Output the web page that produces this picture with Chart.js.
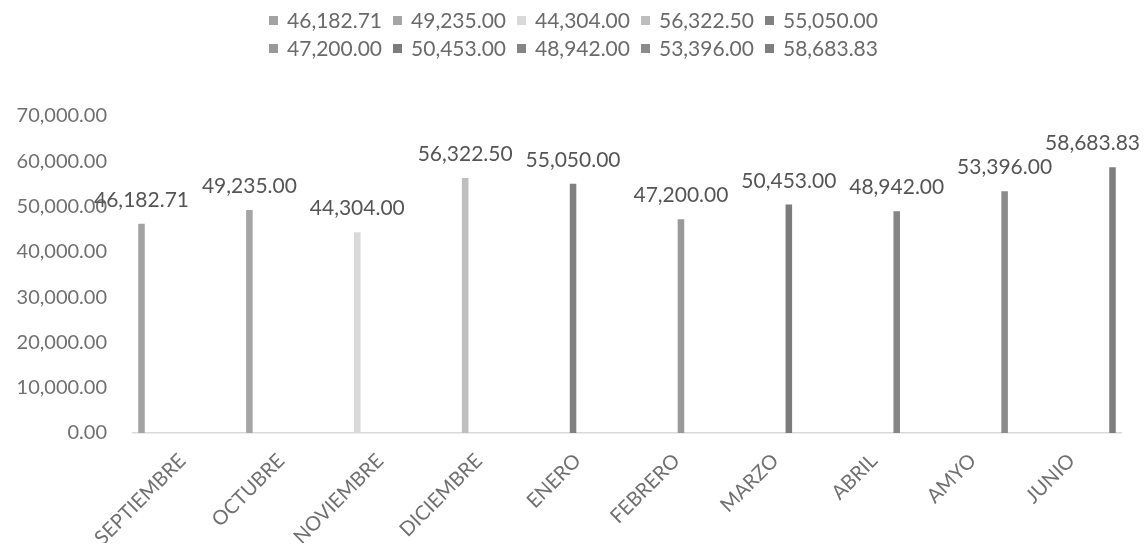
<!DOCTYPE html>
<html>
<head>
<meta charset="utf-8">
<script src="https://cdn.jsdelivr.net/npm/chart.js@4.4.1/dist/chart.umd.min.js"></script>
<style>
  html, body { margin: 0; padding: 0; background: #fff; overflow: hidden; }
  #wrap { position: relative; width: 1147px; height: 551px; overflow: hidden; }
  #legend {
    position: absolute; top: 6px; left: 0; width: 1147px;
    display: flex; justify-content: center;
  }
  #legend .inner {
    width: 640px; display: flex; flex-wrap: wrap; justify-content: center;
    column-gap: 11px; row-gap: 0;
  }
  #legend .item {
    display: flex; align-items: center; font: 21px Lato, sans-serif;
    color: #6a6a6a; line-height: 28px; white-space: nowrap;
  }
  #legend .box { width: 9px; height: 9px; margin-right: 9px; }
  #chart { position: absolute; top: 0; left: 0; }
</style>
</head>
<body>
<div id="wrap">
  <canvas id="chart" width="1147" height="600"></canvas>
  <div id="legend"><div class="inner"></div></div>
</div>
<script>
"use strict"

// months (categories) and one value per month
var months = ["SEPTIEMBRE", "OCTUBRE", "NOVIEMBRE", "DICIEMBRE", "ENERO",
              "FEBRERO", "MARZO", "ABRIL", "AMYO", "JUNIO"];
var amounts = [46182.71, 49235.00, 44304.00, 56322.50, 55050.00,
               47200.00, 50453.00, 48942.00, 53396.00, 58683.83];
// every month is its own series, named by its value
var seriesNames = ["46,182.71", "49,235.00", "44,304.00", "56,322.50", "55,050.00",
                   "47,200.00", "50,453.00", "48,942.00", "53,396.00", "58,683.83"];
var yTicks = [0, 10000, 20000, 30000, 40000, 50000, 60000, 70000];

var barColors = ["#a2a2a2", "#a5a5a5", "#d9d9d9", "#bebebe", "#818181",
                 "#999999", "#7c7c7c", "#858585", "#8b8b8b", "#7e7e7e"];

function fmt(v) {
    return v.toLocaleString('en-US', {minimumFractionDigits: 2, maximumFractionDigits: 2});
}

var datasets = seriesNames.map(function(name, i) {
    var row = months.map(function(m, j) { return j === i ? amounts[i] : null; });
    return {
        label: name,
        data: row,
        backgroundColor: barColors[i],
        borderWidth: 0,
        categoryPercentage: 0.92,
        barPercentage: 0.72
    };
});

// value labels above the bars
var valueLabels = {
    id: 'valueLabels',
    afterDatasetsDraw: function(chart) {
        var ctx = chart.ctx;
        ctx.save();
        ctx.font = '21px Lato';
        ctx.fillStyle = '#555555';
        ctx.textAlign = 'center';
        ctx.textBaseline = 'alphabetic';
        chart.data.datasets.forEach(function(ds, i) {
            chart.getDatasetMeta(i).data.forEach(function(bar, j) {
                if (ds.data[j] == null) return;
                var text = fmt(ds.data[j]);
                var w = ctx.measureText(text).width;
                var x = Math.min(bar.x, chart.width - 7 - w / 2);
                ctx.fillText(text, x, bar.y - 17);
            });
        });
        ctx.restore();
    }
};

var ctxChart = document.getElementById("chart");
var amountsChart = new Chart(ctxChart, {
    type: 'bar',
    data: {
        labels: months,
        datasets: datasets
    },
    options: {
        responsive: false,
        animation: false,
        layout: { padding: { top: 116, right: 26, bottom: 57, left: 12 } },
        plugins: {
            legend: { display: false },
            tooltip: { enabled: false }
        },
        scales: {
            x: {
                grid: { display: false },
                border: { display: true, color: '#d9d9d9', width: 1.5 },
                afterFit: function(axis) { axis.height = 110; },
                ticks: {
                    color: '#707070',
                    font: { family: 'Lato', size: 20 },
                    minRotation: 45,
                    maxRotation: 45,
                    padding: 8
                }
            },
            y: {
                min: 0,
                max: 70000,
                grid: { display: false, drawTicks: false },
                border: { display: false },
                afterFit: function(axis) { axis.width = 121; },
                afterBuildTicks: function(axis) {
                    axis.ticks = yTicks.map(function(v) { return { value: v }; });
                },
                ticks: {
                    color: '#707070',
                    font: { family: 'Lato', size: 20 },
                    padding: 26,
                    callback: function(v) { return fmt(v); }
                }
            }
        }
    },
    plugins: [valueLabels]
});

// legend in two rows, like the original
var inner = document.querySelector('#legend .inner');
seriesNames.forEach(function(name, i) {
    var item = document.createElement('div');
    item.className = 'item';
    var box = document.createElement('span');
    box.className = 'box';
    box.style.background = barColors[i];
    item.appendChild(box);
    item.appendChild(document.createTextNode(name));
    inner.appendChild(item);
});
</script>
</body>
</html>
